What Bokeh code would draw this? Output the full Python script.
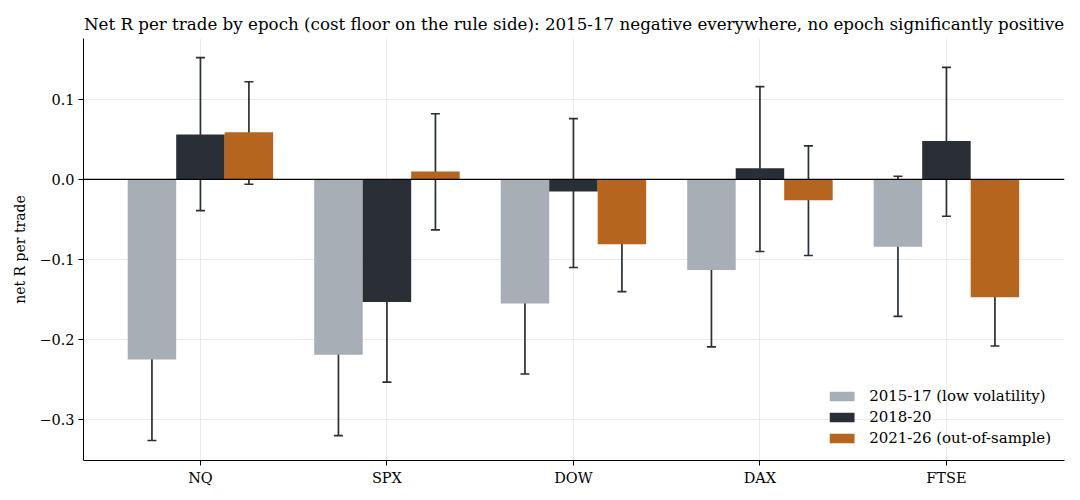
from bokeh.plotting import figure
from bokeh.models import ColumnDataSource, Whisker, TeeHead, Span, FixedTicker, Range1d, Legend, LegendItem
from bokeh.embed import file_html
from bokeh.resources import INLINE

markets = ["NQ", "SPX", "DOW", "DAX", "FTSE"]
series_names = ["2015-17 (low volatility)", "2018-20", "2021-26 (out-of-sample)"]
colors = ["#a8aeb6", "#2a2f36", "#b5651e"]

mean_1517 = [-0.225, -0.219, -0.155, -0.113, -0.084]
lo_1517 = [-0.326, -0.320, -0.243, -0.209, -0.171]
hi_1517 = [-0.126, -0.118, -0.066, -0.020, 0.004]

mean_1820 = [0.056, -0.153, -0.015, 0.014, 0.048]
lo_1820 = [-0.039, -0.253, -0.110, -0.090, -0.046]
hi_1820 = [0.152, -0.053, 0.076, 0.116, 0.140]

mean_2126 = [0.059, 0.010, -0.081, -0.026, -0.147]
lo_2126 = [-0.006, -0.063, -0.140, -0.095, -0.208]
hi_2126 = [0.122, 0.082, -0.022, 0.042, -0.085]

y_ticks = [-0.3, -0.2, -0.1, 0.0, 0.1]
y_tick_labels = ["\u22120.3", "\u22120.2", "\u22120.1", "0.0", "0.1"]

FONT = "DejaVu Serif"
bar_w = 0.26
offsets = [-bar_w, 0.0, bar_w]
all_means = [mean_1517, mean_1820, mean_2126]
all_lo = [lo_1517, lo_1820, lo_2126]
all_hi = [hi_1517, hi_1820, hi_2126]

p = figure(width=1072, height=492, output_backend="svg", toolbar_location=None,
           x_range=Range1d(-0.627, 4.633), y_range=Range1d(-0.351, 0.176),
           min_border_left=83, min_border_right=8, min_border_top=38, min_border_bottom=32,
           title="Net R per trade by epoch (cost floor on the rule side): 2015-17 negative everywhere, no epoch significantly positive")
p.outline_line_color = None
p.title.text_font = FONT
p.title.text_font_size = "16.7px"
p.title.text_font_style = "normal"
p.title.align = "center"
p.title.text_color = "#000000"
p.title.offset = 0

idx = list(range(len(markets)))
items = []
for k in range(3):
    xs = [i + offsets[k] for i in idx]
    src = ColumnDataSource(dict(x=xs, top=all_means[k]))
    r = p.vbar(x="x", top="top", bottom=0, width=bar_w, source=src,
               fill_color=colors[k], line_color=None)
    items.append(LegendItem(label=series_names[k], renderers=[r]))

p.add_layout(Span(location=0, dimension="width", line_color="#000000", line_width=1.2))

for k in range(3):
    xs = [i + offsets[k] for i in idx]
    src = ColumnDataSource(dict(x=xs, lo=all_lo[k], hi=all_hi[k]))
    w = Whisker(base="x", lower="lo", upper="hi", source=src, line_color="#2a2f36", line_width=1.7,
                upper_head=TeeHead(size=9, line_color="#2a2f36", line_width=1.7),
                lower_head=TeeHead(size=9, line_color="#2a2f36", line_width=1.7))
    p.add_layout(w)

legend = Legend(items=items, location="bottom_right", border_line_color=None,
                background_fill_alpha=0, label_text_font=FONT, label_text_font_size="15px",
                label_text_color="#000000",
                glyph_width=31, glyph_height=12, spacing=3, label_standoff=12, padding=4, margin=13,
                label_height=18)
p.add_layout(legend)

p.xaxis.ticker = FixedTicker(ticks=idx)
p.xaxis.major_label_overrides = {i: m for i, m in enumerate(markets)}
p.yaxis.ticker = FixedTicker(ticks=y_ticks)
p.yaxis.major_label_overrides = {t: l for t, l in zip(y_ticks, y_tick_labels)}
p.yaxis.axis_label = "net R per trade"
for ax in (p.xaxis[0], p.yaxis[0]):
    ax.major_label_text_font = FONT
    ax.major_label_text_font_size = "14.5px"
    ax.axis_label_text_font = FONT
    ax.axis_label_text_font_size = "14px"
    ax.axis_label_text_font_style = "normal"
    ax.axis_label_text_color = "#000000"
    ax.minor_tick_line_color = None
    ax.major_tick_out = 5
    ax.major_tick_in = 0
    ax.major_label_standoff = 4
    ax.axis_line_color = "#000000"
    ax.major_tick_line_color = "#000000"
    ax.major_label_text_color = "#000000"
p.yaxis.axis_label_standoff = 8
p.grid.grid_line_color = "#e6e6e6"
p.grid.grid_line_width = 0.8

open("out.html", "w").write(file_html(p, INLINE))
